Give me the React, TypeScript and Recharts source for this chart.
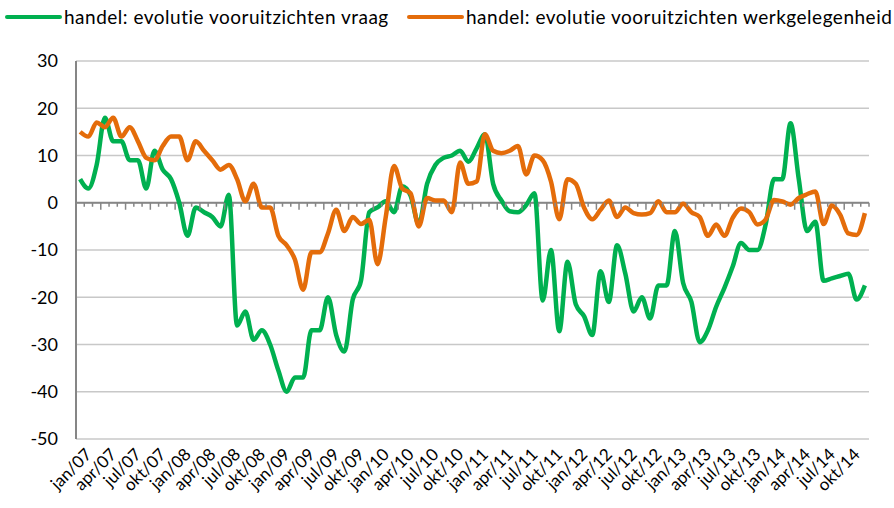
import { LineChart, Line, XAxis, YAxis, CartesianGrid, ReferenceLine } from "recharts";

// maanden en jaren voor de categorie-as
const maanden = ["jan", "feb", "mrt", "apr", "mei", "jun", "jul", "aug", "sep", "okt", "nov", "dec"];
const jaren = ["07", "08", "09", "10", "11", "12", "13", "14"];
const labels = jaren.flatMap((j) => maanden.map((m) => `${m}/${j}`));

// handel: evolutie vooruitzichten vraag
const vraag = [
  5, 3, 8, 18, 13, 13, 9, 9, 3, 11, 7, 5,
  0, -7, -1, -2, -3, -5, 1.7, -26, -23, -29, -27, -30,
  -35.5, -40, -37, -37, -27, -27, -20, -28, -31.5, -20.5, -16.5, -2,
  -1, 0.3, -2, 3.5, 1.5, -4.5, 4, 8, 9.5, 10, 11, 8.7,
  11.5, 14.5, 4, 0.5, -1.8, -2, -0.5, 2, -20.7, -10, -27.2, -12.5,
  -21.5, -24, -28, -14.5, -21, -9, -15, -23, -20, -24.5, -17.5, -17.5,
  -6, -17, -21, -29.5, -27, -22, -18, -13.5, -8.5, -10, -10, -4.5,
  5, 5, 16.8, 5, -6, -4, -16.5, -16, -15.5, -15, -20.5, -17.5,
];

// handel: evolutie vooruitzichten werkgelegenheid
const werkgelegenheid = [
  15, 14, 17, 16, 18, 14, 16, 13, 9.5, 9, 12, 14,
  14, 9, 13, 11, 9, 7, 8, 5, 0.3, 4, -1, -1,
  -7, -9, -12, -18.4, -10.5, -10.5, -6.5, -1.5, -6, -3, -4.5, -3.6,
  -13, -3, 7.8, 3, 2, -5, 1, 0.5, 0.5, -2, 8.5, 4,
  4.5, 14.5, 11, 10.5, 11, 12, 6, 10, 9, 4.5, -3.5, 5,
  4, -1, -3.5, -1.5, 0.5, -3, -1, -2.2, -2.5, -2.2, 0.3, -2,
  -2, -0.2, -2, -3, -7, -4.6, -7, -3.2, -1.2, -2, -4.6, -3.5,
  0.6, 0.3, -0.4, 1, 1.8, 2.4, -4.5, -0.6, -2.5, -6.5, -6.8, -2.2,
];

const yTicks = [-50, -40, -30, -20, -10, 0, 10, 20, 30];

const series = [
  { key: "vraag", name: "handel: evolutie vooruitzichten vraag", color: "#00B050" },
  { key: "werk", name: "handel: evolutie vooruitzichten werkgelegenheid", color: "#E46C0A" },
];

const data = labels.map((label, i) => ({
  label,
  vraag: vraag[i],
  werk: werkgelegenheid[i],
}));

const W = 894;
const H = 508;
const TOP = 61;
const BOTTOM = 69;
const LEFT = 76;
const RIGHT = 25;
const PLOT_H = H - TOP - BOTTOM;
const ZERO_Y = TOP + (PLOT_H * 30) / 80;
const FONT = "Lato, 'Open Sans', sans-serif";

function MonthTick(props: any) {
  const { x, index, payload } = props;
  const half = payload?.offset || (W - LEFT - RIGHT) / labels.length / 2;
  const left = x - half;
  const major = index % 3 === 0;
  const tx = x + 3;
  const ty = TOP + PLOT_H + 7;
  return (
    <g>
      <line x1={left} x2={left} y1={ZERO_Y} y2={ZERO_Y + (major ? 7 : 4)} stroke="#868686" strokeWidth={1.5} />
      {index === labels.length - 1 && (
        <line x1={x + half} x2={x + half} y1={ZERO_Y} y2={ZERO_Y + 4} stroke="#868686" strokeWidth={1.5} />
      )}
      {major && (
        <text
          x={tx}
          y={ty}
          textAnchor="end"
          dominantBaseline="hanging"
          transform={`rotate(-45 ${tx} ${ty})`}
          fontSize={17}
          fontFamily={FONT}
          fill="#000"
        >
          {payload.value}
        </text>
      )}
    </g>
  );
}

function Legenda() {
  const pos = [5, 407];
  return (
    <>
      {series.map((s, i) => (
        <div
          key={s.key}
          style={{
            position: "absolute",
            top: 5,
            left: pos[i],
            display: "flex",
            alignItems: "center",
            fontFamily: FONT,
            fontSize: 19,
            letterSpacing: 0.5,
            color: "#000",
            whiteSpace: "nowrap",
          }}
        >
          <span style={{ display: "inline-block", width: 57, height: 4, background: s.color, borderRadius: 2, marginRight: 2 }} />
          {s.name}
        </div>
      ))}
    </>
  );
}

export default function App() {
  return (
    <div style={{ position: "absolute", left: 0, top: 0, width: W, height: H, background: "#fff" }}>
      <Legenda />
      <LineChart width={W} height={H} data={data} margin={{ top: TOP, right: RIGHT, bottom: 0, left: 0 }}>
        <CartesianGrid vertical={false} stroke="#c8c8c8" strokeWidth={1.5} />
        <XAxis
          dataKey="label"
          scale="band"
          interval={0}
          height={BOTTOM}
          axisLine={false}
          tickLine={false}
          tick={<MonthTick />}
        />
        <YAxis
          domain={[-50, 30]}
          ticks={yTicks}
          width={LEFT}
          tickSize={0}
          tickMargin={18}
          axisLine={{ stroke: "#868686", strokeWidth: 2 }}
          tickLine={false}
          tick={{ fontSize: 18, fontFamily: FONT, fill: "#000" }}
        />
        <ReferenceLine y={0} stroke="#868686" strokeWidth={2} />
        {series.map((s) => (
          <Line
            key={s.key}
            dataKey={s.key}
            name={s.name}
            type="monotone"
            stroke={s.color}
            strokeWidth={4.5}
            dot={false}
            isAnimationActive={false}
          />
        ))}
      </LineChart>
    </div>
  );
}
